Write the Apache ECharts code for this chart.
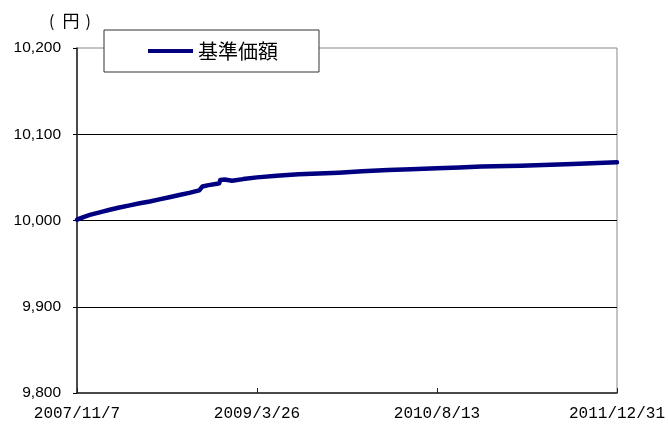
<!DOCTYPE html>
<html>
<head>
<meta charset="utf-8">
<script src="https://cdn.jsdelivr.net/npm/echarts@6/dist/echarts.min.js"></script>
<style>
  html, body { margin: 0; padding: 0; background: #fff; }
  #lineChart { width: 668px; height: 428px; }
</style>
</head>
<body>
<div id="lineChart"></div>
<script>
  // data
  const navDates = [
    '2007-11-07', '2007-11-25', '2007-12-13', '2008-01-15', '2008-02-07', '2008-03-05',
    '2008-04-03', '2008-05-01', '2008-05-29', '2008-06-25', '2008-07-23', '2008-08-20',
    '2008-09-17', '2008-10-01', '2008-10-15', '2008-10-20', '2008-10-24', '2008-11-10',
    '2008-12-04', '2008-12-10', '2008-12-13', '2008-12-25', '2009-01-15', '2009-02-15',
    '2009-03-26', '2009-05-20', '2009-07-21', '2009-09-15', '2009-11-10', '2010-01-15',
    '2010-03-29', '2010-06-01', '2010-08-13', '2010-10-15', '2010-12-15', '2011-04-06',
    '2011-08-29', '2011-12-31'
  ]
  const navValues = [
    10001, 10004, 10006.5, 10010, 10012.5, 10015,
    10017.5, 10020, 10022, 10024.5, 10027, 10029.5,
    10032, 10033.5, 10035, 10036, 10039.5, 10041,
    10042.5, 10043, 10047, 10047.5, 10046, 10048,
    10050, 10052, 10053.5, 10054.5, 10055.5, 10057,
    10058.5, 10059.5, 10060.5, 10061.5, 10062.5, 10063.5,
    10065.5, 10067.5
  ]
  const xTickLabels = ['2007/11/7', '2009/3/26', '2010/8/13', '2011/12/31']
  const yTicks = [9800, 9900, 10000, 10100, 10200]
  const seriesName = '基準価額'
  const unitLabel = '円'

  const DAY = 86400000
  const startTs = Date.UTC(2007, 10, 7)
  const toDays = (s) => {
    const p = s.split('-')
    return Math.round((Date.UTC(+p[0], +p[1] - 1, +p[2]) - startTs) / DAY)
  }
  const tickStep = toDays('2009-03-26')
  const lastDay = toDays('2011-12-31')
  const lineData = navDates.map((d, i) => [toDays(d), navValues[i]])

  const option = {
    backgroundColor: '#fff',
    animation: false,
    title: {
      text: '{l|(}{c|' + unitLabel + '}{r|)}',
      left: 49,
      top: 12,
      padding: 0,
      textStyle: {
        fontWeight: 'normal',
        rich: {
          l: { fontFamily: 'Noto Sans CJK JP', fontSize: 16, fontWeight: 'normal', width: 12, align: 'left', color: '#000' },
          c: { fontFamily: 'Noto Sans CJK JP', fontSize: 17, fontWeight: 'normal', width: 20, align: 'center', color: '#000' },
          r: { fontFamily: 'Noto Sans CJK JP', fontSize: 16, fontWeight: 'normal', width: 10, align: 'right', color: '#000' }
        }
      }
    },
    legend: {
      left: 104,
      top: 30,
      padding: [11, 41, 11, 44],
      backgroundColor: '#fff',
      borderColor: '#333',
      borderWidth: 1,
      itemWidth: 45,
      itemHeight: 4,
      itemGap: 0,
      icon: 'rect',
      textStyle: {
        fontFamily: 'Noto Sans CJK JP',
        fontSize: 20,
        lineHeight: 20,
        color: '#000'
      },
      data: [seriesName]
    },
    grid: {
      show: true,
      left: 77,
      right: 48,
      top: 48,
      bottom: 35,
      borderColor: '#888',
      borderWidth: 1
    },
    xAxis: {
      type: 'value',
      min: 0,
      max: lastDay,
      interval: tickStep,
      axisLine: { show: true, lineStyle: { color: '#222', width: 1.5 } },
      axisTick: { show: true, inside: true, length: 5, lineStyle: { color: '#222' } },
      splitLine: { show: false },
      axisLabel: {
        margin: 13,
        fontFamily: 'Liberation Mono',
        fontSize: 16,
        color: '#000',
        showMinLabel: true,
        showMaxLabel: true,
        formatter: function (v) {
          return xTickLabels[Math.round(v / tickStep)] || ''
        }
      }
    },
    yAxis: {
      type: 'value',
      min: yTicks[0],
      max: yTicks[yTicks.length - 1],
      interval: yTicks[1] - yTicks[0],
      axisLine: { show: true, lineStyle: { color: '#222', width: 1.5 } },
      axisTick: { show: true, inside: false, length: 4, lineStyle: { color: '#000' } },
      splitLine: { show: true, showMaxLine: false, showMinLine: false, lineStyle: { color: '#000', width: 1 } },
      axisLabel: {
        margin: 16,
        fontFamily: 'Liberation Sans',
        fontSize: 15.5,
        color: '#000',
        formatter: function (v) {
          return v.toLocaleString('en-US')
        }
      }
    },
    series: [{
      name: seriesName,
      type: 'line',
      showSymbol: false,
      symbol: 'none',
      lineStyle: { color: '#000080', width: 4.5, cap: 'round', join: 'round' },
      itemStyle: { color: '#000080' },
      data: lineData
    }]
  }

  const eChart = echarts.init(document.getElementById('lineChart'), null, { renderer: 'canvas' })
  eChart.setOption(option)
</script>
</body>
</html>
